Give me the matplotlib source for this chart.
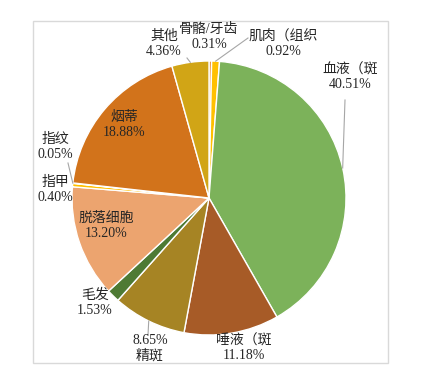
import matplotlib
matplotlib.use("Agg")
import matplotlib.pyplot as plt
import numpy as np

plt.rcParams['font.family'] = ['Liberation Serif', 'Noto Sans CJK SC']

categories = ['骨骼/牙齿', '肌肉（组织', '血液（斑', '唾液（斑', '精斑', '毛发',
              '脱落细胞', '指甲', '指纹', '烟蒂', '其他']
values = [0.31, 0.92, 40.51, 11.18, 8.65, 1.53, 13.20, 0.40, 0.05, 18.88, 4.36]
colors = ['#E8892B', '#FFC000', '#7CB25A', '#A75B27', '#A68424', '#4E7A34',
          '#ECA46F', '#FFC000', '#E8892B', '#D2731B', '#D1A516']

W, H = 425, 374
fig = plt.figure(figsize=(W / 100, H / 100), dpi=100)
ax = fig.add_axes([0, 0, 1, 1])
ax.set_xlim(0, W)
ax.set_ylim(0, H)
ax.axis('off')

cx, cy_top, R = 209, 198, 137
cy = H - cy_top

# frame
ax.add_patch(plt.Rectangle((33, H - 363), 355, 342, fill=False,
                           edgecolor='#d9d9d9', linewidth=1))

ax.pie(values, colors=colors, startangle=90, counterclock=False,
       center=(cx, cy), radius=R,
       wedgeprops=dict(edgecolor='white', linewidth=1))
ax.set_xlim(0, W)
ax.set_ylim(0, H)
ax.set_aspect('auto')

# label layout: (x_center, y_top_center, value_first)
layout = {
    '骨骼/牙齿': (209, 37, False),
    '肌肉（组织': (283, 44, False),
    '血液（斑': (350, 77, False),
    '唾液（斑': (244, 348, False),
    '精斑': (150, 348, True),
    '毛发': (95, 303, False),
    '脱落细胞': (106, 226, False),
    '指甲': (55, 190, False),
    '指纹': (55, 147, False),
    '烟蒂': (124, 125, False),
    '其他': (164, 44, False),
}
# leader line start points (top-based) for labels with leaders
leaders = {
    '肌肉（组织': (248, 38),
    '血液（斑': (345, 100),
    '精斑': (148, 335),
    '指纹': (68, 163),
    '其他': (187, 58),
}

cum = np.cumsum([0] + values[:-1])
total = sum(values)
for name, v, c0 in zip(categories, values, cum):
    x, yt, vfirst = layout[name]
    pct = f"{v:.2f}%"
    txt = f"{pct}\n{name}" if vfirst else f"{name}\n{pct}"
    ax.text(x, H - yt, txt, ha='center', va='center', fontsize=10,
            linespacing=1.2, color='#262626')
    if name in leaders:
        mid = (c0 + v / 2) / total * 360
        th = np.deg2rad(90 - mid)
        ex, ey = cx + R * np.cos(th), cy + R * np.sin(th)
        sx, sy = leaders[name]
        ax.plot([sx, ex], [H - sy, ey], color='#a6a6a6', linewidth=0.8)

fig.savefig('out.png', dpi=100)
